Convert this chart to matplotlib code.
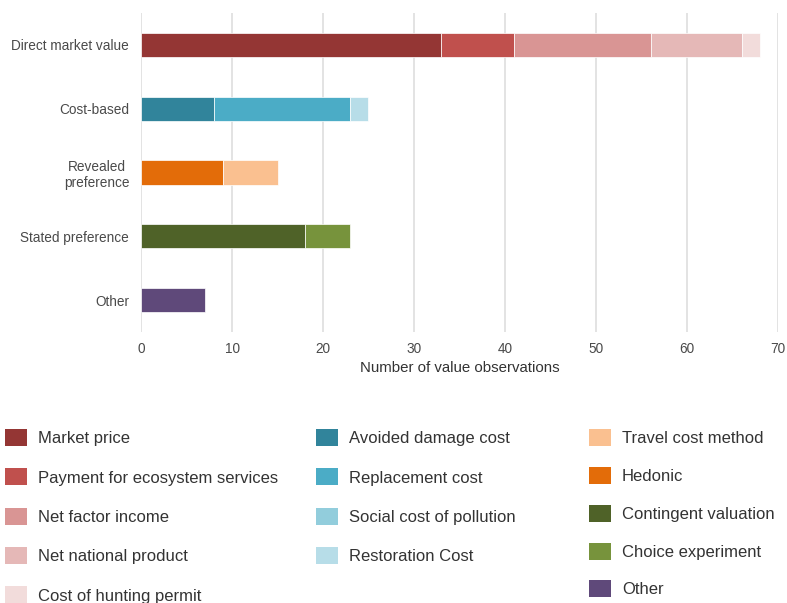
import numpy as np
import matplotlib.pyplot as plt
from matplotlib.patches import Patch

plt.rcParams['font.family'] = ['Liberation Sans', 'DejaVu Sans']

# groups on the y axis (top to bottom)
categories = ["Direct market value", "Cost-based", "Revealed\npreference",
              "Stated preference", "Other"]

# stacked segments per group, in drawing order (left to right)
direct_labels = ["Market price", "Payment for ecosystem services", "Net factor income",
                 "Net national product", "Cost of hunting permit"]
direct_counts = [33, 8, 15, 10, 2]

cost_labels = ["Avoided damage cost", "Replacement cost", "Social cost of pollution",
               "Restoration Cost"]
cost_counts = [8, 15, 0, 2]

revealed_labels = ["Hedonic", "Travel cost method"]
revealed_counts = [9, 6]

stated_labels = ["Contingent valuation", "Choice experiment"]
stated_counts = [18, 5]

other_labels = ["Other"]
other_counts = [7]

colors = {
    "Market price": "#943634",
    "Payment for ecosystem services": "#c0504d",
    "Net factor income": "#d99594",
    "Net national product": "#e5b8b7",
    "Cost of hunting permit": "#f2dcdb",
    "Avoided damage cost": "#31849b",
    "Replacement cost": "#4bacc6",
    "Social cost of pollution": "#92cddc",
    "Restoration Cost": "#b7dde8",
    "Travel cost method": "#fac090",
    "Hedonic": "#e36c09",
    "Contingent valuation": "#4f6228",
    "Choice experiment": "#77933c",
    "Other": "#5f497a",
}

legend_cols = [
    direct_labels,
    cost_labels,
    ["Travel cost method", "Hedonic", "Contingent valuation", "Choice experiment", "Other"],
]

fig = plt.figure(figsize=(7.87, 6.03), dpi=100)
ax = fig.add_axes([141 / 787, 1 - 332 / 603, (778 - 141) / 787, 319 / 603])

groups = [(direct_labels, direct_counts), (cost_labels, cost_counts),
          (revealed_labels, revealed_counts), (stated_labels, stated_counts),
          (other_labels, other_counts)]
for i, (labels, counts) in enumerate(groups):
    left = 0
    for lab, c in zip(labels, counts):
        if c > 0:
            ax.barh(i, c, left=left, height=0.38, color=colors[lab],
                    edgecolor='white', linewidth=0.5, zorder=3)
        left += c

ax.set_xlim(0, 70)
ax.set_ylim(4.5, -0.5)
ax.set_xticks(np.arange(0, 71, 10))
ax.set_yticks(range(len(categories)))
ax.set_yticklabels(categories, multialignment='center')
ax.grid(axis='x', color='#e3e3e3', linewidth=1.4, zorder=0)
for s in ax.spines.values():
    s.set_visible(False)
ax.tick_params(axis='both', length=0, labelsize=9.8, labelcolor='#4a4a4a')
ax.tick_params(axis='y', pad=8.5)
ax.tick_params(axis='x', pad=7)
ax.set_xlabel("Number of value observations", fontsize=10.8, color='#333333', labelpad=4)

# legend: three separate columns
col_x = [5, 316, 589]
col_spacing = [1.33, 1.33, 1.24]
for x, labs, sp in zip(col_x, legend_cols, col_spacing):
    handles = [Patch(facecolor=colors[l], edgecolor='none') for l in labs]
    leg = fig.legend(handles, labs, loc='upper left',
                     bbox_to_anchor=(x / 787, 1 - 429 / 603),
                     frameon=False, fontsize=12, handlelength=1.32, handleheight=1.2,
                     handletextpad=0.66, labelspacing=sp, borderpad=0, borderaxespad=0)
    for t in leg.get_texts():
        t.set_color('#333333')

fig.savefig("out.png", dpi=100)
